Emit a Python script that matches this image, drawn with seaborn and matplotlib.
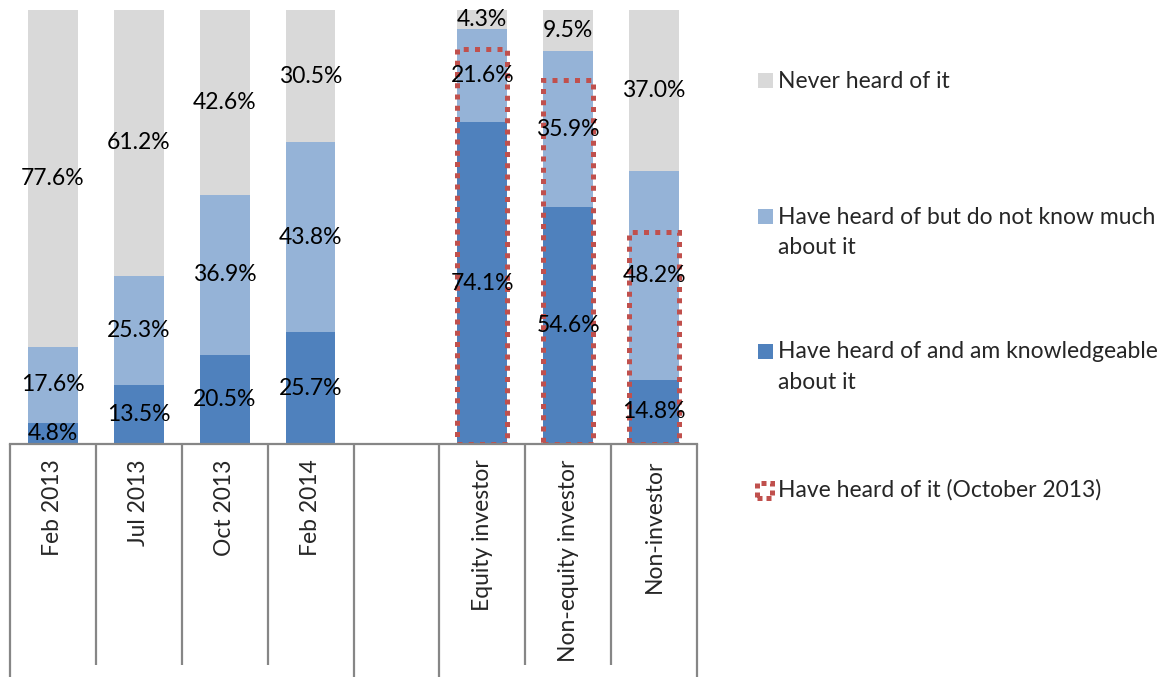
import numpy as np
import pandas as pd
import matplotlib
matplotlib.use("Agg")
import matplotlib.pyplot as plt
from matplotlib.patches import Rectangle
import seaborn as sns

# Survey awareness data (percent of respondents)
groups = ["Feb 2013", "Jul 2013", "Oct 2013", "Feb 2014", "",
          "Equity investor", "Non-equity investor", "Non-investor"]
knowledgeable = [4.8, 13.5, 20.5, 25.7, None, 74.1, 54.6, 14.8]
heard_not_much = [17.6, 25.3, 36.9, 43.8, None, 21.6, 35.9, 48.2]
never_heard = [77.6, 61.2, 42.6, 30.5, None, 4.3, 9.5, 37.0]
# Share that had heard of it in October 2013, by investor type
heard_oct2013_groups = ["Equity investor", "Non-equity investor", "Non-investor"]
heard_oct2013 = [91.0, 83.9, 48.8]

legend_labels = ["Never heard of it",
                 "Have heard of but do not know much\nabout it",
                 "Have heard of and am knowledgeable\nabout it",
                 "Have heard of it (October 2013)"]

c_never = "#D9D9D9"
c_heard = "#95B3D7"
c_know = "#4F81BD"
c_box = "#C0504D"
c_axis = "#868686"
FS = 16.5

sns.set_theme(style="white")
plt.rcParams["font.family"] = ["Lato", "DejaVu Sans"]

df = pd.DataFrame({"group": groups, "know": knowledgeable,
                   "heard": heard_not_much, "never": never_heard})
df = df[df["group"] != ""].copy()
df["lvl1"] = df["know"]
df["lvl2"] = df["know"] + df["heard"]
df["lvl3"] = df["know"] + df["heard"] + df["never"]

W, H = 1167, 677
fig = plt.figure(figsize=(W / 100, H / 100), dpi=100)
ax = fig.add_axes([10 / W, 1 - 444 / H, 687 / W, 434 / H])

bw = 0.58
for col, color in [("lvl3", c_never), ("lvl2", c_heard), ("lvl1", c_know)]:
    sns.barplot(data=df, x="group", y=col, order=groups, color=color,
                width=bw, saturation=1, linewidth=0, ax=ax)

box_df = pd.DataFrame({"group": heard_oct2013_groups, "value": heard_oct2013})
sns.barplot(data=box_df, x="group", y="value", order=groups, fill=False,
            width=bw, ax=ax, linewidth=3.6, edgecolor=c_box)
for p in ax.patches[-len(heard_oct2013):]:
    p.set_linestyle((0, (1.0, 1.25)))
    p.set_capstyle("butt")
    p.set_joinstyle("miter")
    p.set_facecolor("none")

# Segment value labels, centred in each segment
for _, r in df.iterrows():
    i = groups.index(r["group"])
    bottoms = [0, r["lvl1"], r["lvl2"]]
    for b, v in zip(bottoms, [r["know"], r["heard"], r["never"]]):
        ax.text(i, b + v / 2, f"{v:.1f}%", ha="center", va="center",
                fontsize=FS, color="black")

ax.set_xlim(-0.5, len(groups) - 0.5)
ax.set_ylim(0, 100)
ax.set_xlabel("")
ax.set_ylabel("")
ax.set_yticks([])
ax.set_xticks(range(len(groups)))
ax.set_xticklabels(groups, rotation=90, fontsize=FS)
ax.tick_params(axis="x", length=0, pad=11)
for s in ["left", "right", "top"]:
    ax.spines[s].set_visible(False)
ax.spines["bottom"].set_color(c_axis)
ax.spines["bottom"].set_linewidth(1.6)

# Category separators of the axis; group boundaries run to the bottom edge
long_sep = {-0.5, 3.5, 4.5, len(groups) - 0.5}
for k in range(len(groups) + 1):
    x = k - 0.5
    y_end = -60 if x in long_sep else -50.9
    ax.plot([x, x], [0, y_end], color=c_axis, lw=1.6, clip_on=False,
            solid_capstyle="butt")

# Legend column on the right
def fy(py):
    return 1 - py / H

def fx(px):
    return px / W

legend_rows = [(81, c_never), (217, c_heard), (352, c_know)]
for (py, color), label in zip(legend_rows, legend_labels[:3]):
    fig.add_artist(Rectangle((fx(758), fy(py + 7)), 15 / W, 15 / H,
                             transform=fig.transFigure, facecolor=color,
                             edgecolor="none"))
    for j, line in enumerate(label.split("\n")):
        fig.text(fx(778), fy(py + 30 * j), line, ha="left", va="center",
                 fontsize=FS)

box_icon = Rectangle((fx(757), fy(498)), 15 / W, 15 / H,
                     transform=fig.transFigure, facecolor="none",
                     edgecolor=c_box, linewidth=3.6)
box_icon.set_linestyle((0, (1.0, 0.8)))
fig.add_artist(box_icon)
fig.text(fx(778), fy(490), legend_labels[3], ha="left", va="center", fontsize=FS)

fig.savefig("out.png", dpi=100)
